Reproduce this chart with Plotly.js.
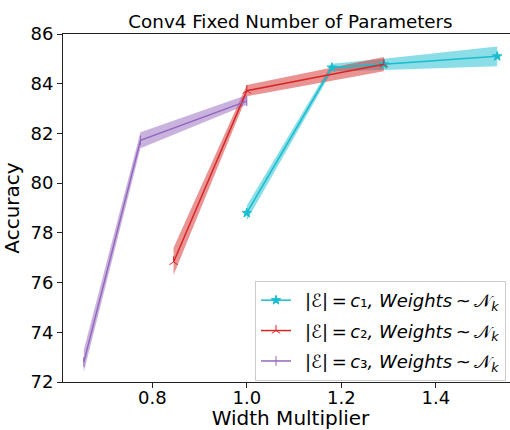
<!DOCTYPE html>
<html><head><meta charset="utf-8">
<script src="https://cdn.plot.ly/plotly-3.0.1.min.js"></script>
<style>html,body{margin:0;padding:0;overflow:hidden;background:#fff}</style>
</head><body><div id="chart" style="width:520px;height:430px"></div>
<script>
const c1X = [1.0, 1.18, 1.29, 1.53];
const c1Mean = [78.8, 84.65, 84.78, 85.1];
const c1Lo = [78.5, 84.5, 84.55, 84.7];
const c1Hi = [79.1, 84.8, 85.0, 85.5];

const c2X = [0.845, 1.0, 1.29];
const c2Mean = [76.83, 83.72, 84.78];
const c2Lo = [76.3, 83.5, 84.5];
const c2Hi = [77.4, 83.95, 85.07];

const c3X = [0.655, 0.775, 1.0];
const c3Mean = [72.8, 81.72, 83.3];
const c3Lo = [72.4, 81.4, 83.15];
const c3Hi = [73.3, 82.05, 83.55];

const names = [
  '\u2002|ℰ|\u2009=\u2009<i>c</i>₁<i>, Weights</i>\u2009~\u2009𝒩<sub><i>k</i></sub>',
  '\u2002|ℰ|\u2009=\u2009<i>c</i>₂<i>, Weights</i>\u2009~\u2009𝒩<sub><i>k</i></sub>',
  '\u2002|ℰ|\u2009=\u2009<i>c</i>₃<i>, Weights</i>\u2009~\u2009𝒩<sub><i>k</i></sub>'
];
const colors = ['#17becf', '#d62728', '#9467bd'];
const fills = ['rgba(23,190,207,0.5)', 'rgba(214,39,40,0.5)', 'rgba(148,103,189,0.5)'];
const symbols = ['star', 'y-up-open', 'line-ns-open'];

const series = [[c1X, c1Mean, c1Lo, c1Hi], [c2X, c2Mean, c2Lo, c2Hi], [c3X, c3Mean, c3Lo, c3Hi]];
const traces = [];
series.forEach((s, i) => {
  traces.push({x: s[0], y: s[2], mode: 'lines', line: {width: 0, color: colors[i]}, showlegend: false, hoverinfo: 'skip'});
  traces.push({x: s[0], y: s[3], mode: 'lines', line: {width: 0, color: colors[i]}, fill: 'tonexty', fillcolor: fills[i], showlegend: false, hoverinfo: 'skip'});
});
series.forEach((s, i) => {
  traces.push({x: s[0], y: s[1], mode: 'lines+markers', name: names[i], legendgroup: 'g' + i,
    line: {color: colors[i], width: 1.5},
    marker: {symbol: symbols[i], size: 7, color: colors[i], line: {color: colors[i], width: 1}}});
});

const font = {family: 'DejaVu Sans, sans-serif', size: 18, color: '#000'};
const titleFont = {family: 'DejaVu Sans, sans-serif', size: 20, color: '#000'};
const layout = {
  width: 520, height: 430,
  margin: {l: 63, r: 2, t: 34, b: 48},
  paper_bgcolor: '#fff', plot_bgcolor: '#fff',
  font: font,
  title: {text: 'Conv4 Fixed Number of Parameters', font: {family: font.family, size: 18.3, color: '#000'}, x: 0.5, xref: 'paper', y: 1, yref: 'paper', yanchor: 'bottom', pad: {b: 6}},
  xaxis: {range: [0.611, 1.574], tickvals: [0.8, 1.0, 1.2, 1.4], ticktext: ['0.8', '1.0', '1.2', '1.4'],
    ticks: 'outside', ticklen: 5, tickcolor: '#222', showgrid: false, zeroline: false,
    showline: true, linecolor: '#222', linewidth: 1, mirror: true, ticklabelstandoff: -6,
    tickfont: font, title: {text: 'Width Multiplier', font: titleFont, standoff: 0}},
  yaxis: {range: [72, 86], tickvals: [72, 74, 76, 78, 80, 82, 84, 86],
    ticks: 'outside', ticklen: 5, tickcolor: '#222', showgrid: false, zeroline: false,
    showline: true, linecolor: '#222', linewidth: 1, mirror: true,
    tickfont: font, title: {text: 'Accuracy', font: titleFont, standoff: 6}},
  legend: {x: 0.422, y: 0.003, xanchor: 'left', yanchor: 'bottom', bgcolor: 'rgba(255,255,255,0.8)',
    bordercolor: '#ccc', borderwidth: 1, font: font, traceorder: 'grouped', tracegroupgap: 4, itemwidth: 30},
  showlegend: true
};
Plotly.newPlot('chart', traces, layout, {displayModeBar: false, staticPlot: true});
</script></body></html>
